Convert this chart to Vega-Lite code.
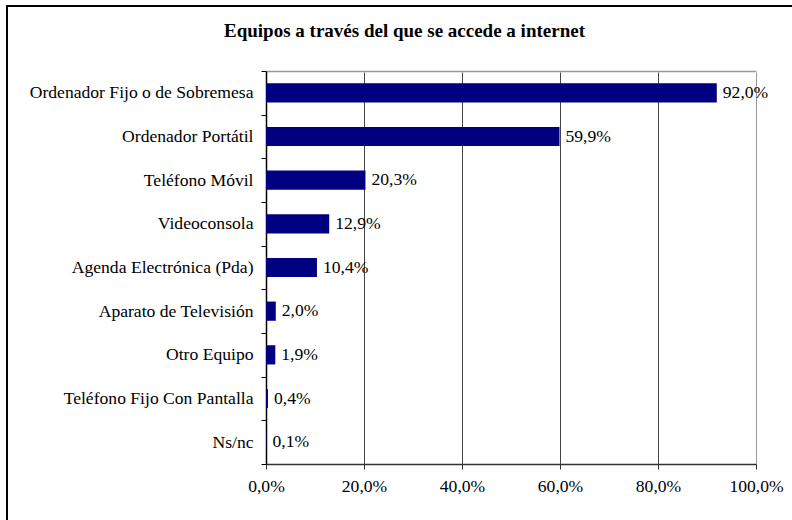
{
  "$schema": "https://vega.github.io/schema/vega-lite/v6.json",
  "width": 795,
  "height": 524,
  "autosize": {"type": "none"},
  "padding": {"left": 7, "top": 6, "right": -10, "bottom": -10},
  "title": {
    "text": "Equipos a través del que se accede a internet",
    "font": "Liberation Serif, Times New Roman, Times, serif",
    "fontSize": 19,
    "fontWeight": "bold",
    "color": "black",
    "anchor": "middle",
    "frame": "group",
    "baseline": "alphabetic",
    "offset": -59
  },
  "data": {
    "values": [
      {"equipo": "Ordenador Fijo o de Sobremesa", "pct": 0.920},
      {"equipo": "Ordenador Portátil", "pct": 0.599},
      {"equipo": "Teléfono Móvil", "pct": 0.203},
      {"equipo": "Videoconsola", "pct": 0.129},
      {"equipo": "Agenda Electrónica (Pda)", "pct": 0.104},
      {"equipo": "Aparato de Televisión", "pct": 0.020},
      {"equipo": "Otro Equipo", "pct": 0.019},
      {"equipo": "Teléfono Fijo Con Pantalla", "pct": 0.004},
      {"equipo": "Ns/nc", "pct": 0.001}
    ]
  },
  "encoding": {
    "y": {
      "field": "equipo",
      "type": "nominal",
      "sort": null,
      "scale": {"range": [65, 458], "paddingInner": 0, "paddingOuter": 0},
      "axis": {
        "title": null,
        "orient": "left",
        "offset": -259,
        "labelFont": "Liberation Serif, Times New Roman, Times, serif",
        "labelFontSize": 17.6,
        "labelColor": "black",
        "labelPadding": 8,
        "labelLimit": 400,
        "tickSize": 5,
        "tickColor": "black",
        "tickBand": "extent",
        "domainColor": "black",
        "domainWidth": 1.5,
        "grid": false
      }
    }
  },
  "layer": [
    {
      "mark": {"type": "bar", "color": "#000080", "height": {"band": 0.44}},
      "encoding": {
        "x": {
          "field": "pct",
          "type": "quantitative",
          "scale": {"domain": [0, 1], "range": [259, 749]},
          "axis": {
            "orient": "bottom",
            "offset": -66,
            "format": ".1%",
            "values": [0, 0.2, 0.4, 0.6, 0.8, 1],
            "title": null,
            "grid": true,
            "gridColor": {"condition": {"test": "datum.value >= 1", "value": "#999999"}, "value": "#444444"},
            "gridWidth": 1,
            "tickSize": 5,
            "tickColor": "#333333",
            "domainColor": "#333333",
            "domainWidth": 1.5,
            "labelPadding": 8,
            "labelFont": "Liberation Serif, Times New Roman, Times, serif",
            "labelFontSize": 17.6,
            "labelColor": "black",
            "labelFlush": false
          }
        }
      }
    },
    {
      "mark": {"type": "text", "align": "left", "dx": 6, "baseline": "middle", "fontSize": 17.6, "font": "Liberation Serif, Times New Roman, Times, serif", "color": "black"},
      "encoding": {
        "x": {
          "field": "pct",
          "type": "quantitative",
          "scale": {"domain": [0, 1], "range": [259, 749]},
          "axis": {
            "orient": "top",
            "offset": -65,
            "labels": false,
            "ticks": false,
            "grid": false,
            "title": null,
            "domainColor": "#999999",
            "domainWidth": 1.5
          }
        },
        "text": {"field": "pct", "type": "quantitative", "format": ".1%"}
      }
    }
  ],
  "resolve": {"axis": {"x": "independent"}},
  "config": {
    "font": "Liberation Serif, Times New Roman, Times, serif",
    "view": {"stroke": "black", "strokeWidth": 2, "fill": "white"},
    "background": "white",
    "locale": {
      "number": {"decimal": ",", "thousands": ".", "grouping": [3], "currency": ["", " €"]}
    }
  }
}
